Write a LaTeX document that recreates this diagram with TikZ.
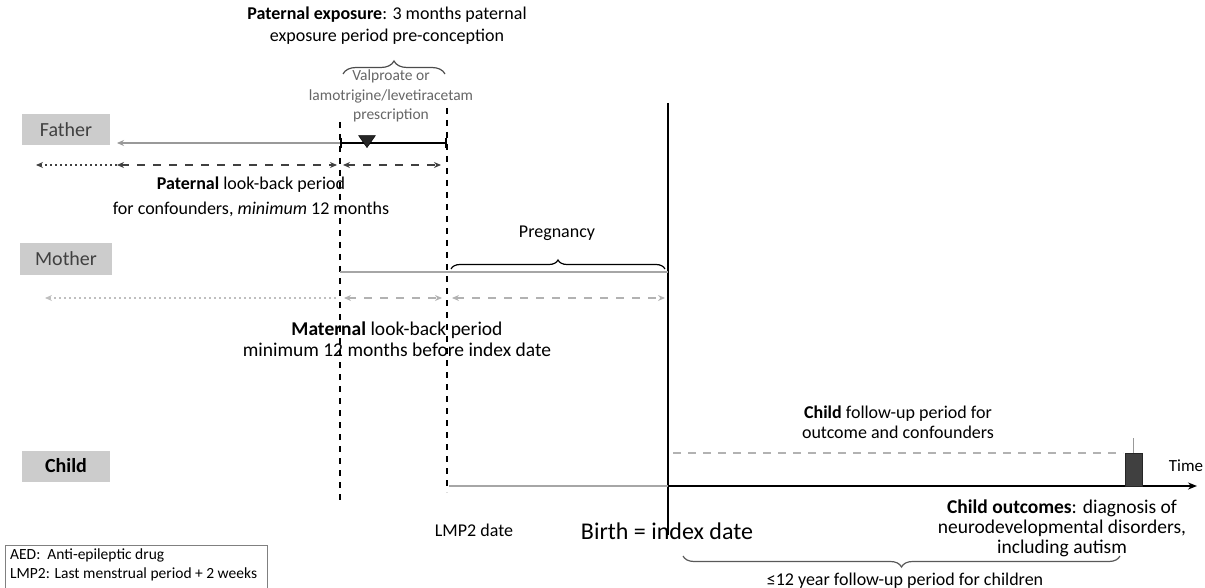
\documentclass[tikz,border=0pt]{standalone}
\usepackage{fontspec}
\setmainfont{Carlito}
\usetikzlibrary{arrows.meta,decorations.pathreplacing,calc,shapes.geometric}
\begin{document}
\begin{tikzpicture}[x=1pt,y=-1pt,
  rolebox/.style={fill=gray!40, inner sep=0pt, minimum height=31pt, minimum width=88pt, font=\fontsize{20}{22}\selectfont, text=black!75},
  txt/.style={font=\fontsize{18}{22}\selectfont, align=center, inner sep=0pt},
  graytxt/.style={font=\fontsize{15.5}{19.5}\selectfont, align=center, inner sep=0pt, text=black!60},
  vdash/.style={line width=1.6pt, dash pattern=on 6pt off 6pt},
  fdash/.style={line width=1.3pt, black!75, dash pattern=on 8pt off 8pt, {Stealth[length=7pt,width=6pt]}-{Stealth[length=7pt,width=6pt]}},
  fdot/.style={line width=1.3pt, black!75, dash pattern=on 2pt off 3pt, {Stealth[length=7pt,width=6pt]}-},
  mdash/.style={line width=1.3pt, black!30, dash pattern=on 8pt off 8pt, {Stealth[length=7pt,width=6pt]}-{Stealth[length=7pt,width=6pt]}},
  mdot/.style={line width=1.3pt, black!25, dash pattern=on 2pt off 3pt, {Stealth[length=7pt,width=6pt]}-},
  bracestyle/.style={decorate, decoration={brace, amplitude=10pt}, line width=1.2pt},
]
\useasboundingbox (0,0) rectangle (1205,588);

% role labels
\node[rolebox] (father) at (66,130) {Father};
\node[rolebox, minimum width=92pt] (mother) at (66,259) {Mother};
\node[rolebox, text=black, font=\bfseries\fontsize{20}{22}\selectfont] (child) at (66,466) {Child};

% key coordinates
\coordinate (p1top) at (340,122);
\coordinate (p1bot) at (340,500);
\coordinate (p2top) at (447,108);
\coordinate (p2bot) at (447,492);
\coordinate (btop) at (668,103);
\coordinate (bbot) at (668,535);

% vertical lines
\draw[vdash] (p1top) -- (p1bot);
\draw[vdash] (p2top) -- (p2bot);
\draw[line width=2.6pt] (btop) -- (bbot);

% top text
\node[txt] (patexp) at (387,26) {\textbf{Paternal exposure}: 3 months paternal\\exposure period pre-conception};
\coordinate (brL) at (343,74);
\coordinate (brR) at (445,74);
\draw[bracestyle, black!70, decoration={brace, amplitude=13pt}] (brL) -- (brR);
\node[graytxt] (presc) at (391,96) {Valproate or\\lamotrigine/levetiracetam\\prescription};

% father line
\coordinate (fA) at (340,143);
\coordinate (fB) at (447,143);
\coordinate (fL) at (117,143);
\draw[line width=1.4pt, black!40, -{Stealth[length=7pt,width=6pt]}] (fA) -- (fL);
\draw[line width=1.8pt, |-|] (fA) -- (fB);
\node[fill=black!85, draw=black, isosceles triangle, isosceles triangle apex angle=70, shape border rotate=-90, inner sep=0pt, minimum height=12pt] (tri) at (367,140) {};

% paternal look-back arrows
\coordinate (pd0) at (36,165);
\coordinate (pd1) at (117,165);
\coordinate (pd2) at (337,165);
\coordinate (pd3) at (343,165);
\coordinate (pd4) at (441,165);
\draw[fdot] (pd0) -- (pd1);
\draw[fdash] (pd1) -- (pd2);
\draw[fdash] (pd3) -- (pd4);
\node[txt, font=\fontsize{18}{25}\selectfont] (patlb) at (251,197) {\textbf{Paternal} look-back period\\for confounders, \textit{minimum} 12 months};

% mother
\node[txt] (preg) at (557,233) {Pregnancy};
\coordinate (pgL) at (451,269);
\coordinate (pgR) at (665,269);
\draw[bracestyle, decoration={brace, amplitude=9pt}] (pgL) -- (pgR);
\coordinate (mA) at (340,272);
\coordinate (mB) at (668,272);
\draw[line width=1.8pt, black!35] (mA) -- (mB);

\coordinate (md0) at (45,298);
\coordinate (md1) at (336,298);
\coordinate (md2) at (344,298);
\coordinate (md3) at (442,298);
\coordinate (md4) at (452,298);
\coordinate (md5) at (665,298);
\draw[mdot] (md0) -- (md1);
\draw[mdash] (md2) -- (md3);
\draw[mdash] (md4) -- (md5);
\node[txt, font=\fontsize{19.5}{21}\selectfont] (matlb) at (397,339) {\textbf{Maternal} look-back period\\minimum 12 months before index date};

% child
\node[txt, font=\fontsize{18}{20}\selectfont] (cfu) at (898,422) {\textbf{Child} follow-up period for\\outcome and confounders};
\coordinate (cdA) at (673,453);
\coordinate (cdB) at (1123,453);
\draw[line width=2pt, black!30, dash pattern=on 8pt off 7pt] (cdA) -- (cdB);
\coordinate (cA) at (449,486);
\coordinate (cB) at (668,486);
\coordinate (cE) at (1197,486);
\draw[line width=1.6pt, black!35] (cA) -- (cB);
\draw[line width=2pt, -{Stealth[length=9pt,width=7pt]}] (cB) -- (cE);
\node[fill=black!75, draw=black!85, inner sep=0pt, minimum width=17pt, minimum height=33pt] (outbox) at (1133.5,469.5) {};
\coordinate (tk) at (1133.5,438);
\draw[line width=1.2pt, black!40] (tk) -- (outbox.north);
\node[txt, font=\fontsize{17}{20}\selectfont] (time) at (1186,466) {Time};
\node[txt, font=\fontsize{19.5}{20}\selectfont] (cout) at (1062,528) {\textbf{Child outcomes}: diagnosis of\\neurodevelopmental disorders,\\including autism};

\node[txt] (lmp) at (474,530) {LMP2 date};
\node[txt, font=\fontsize{24}{26}\selectfont] (birth) at (667,531) {Birth = index date};

\coordinate (bbR) at (1120,556);
\coordinate (bbL) at (683,556);
\draw[bracestyle, black!65, decoration={brace, amplitude=11pt}] (bbR) -- (bbL);
\node[txt] (fu12) at (905,581) {≤12 year follow-up period for children};

% legend
\node[draw=black!50, line width=0.8pt, anchor=north west, minimum width=262pt, minimum height=50pt, inner sep=0pt] (legend) at (5,545) {};
\node[txt, font=\fontsize{15.5}{19}\selectfont, align=left, anchor=north west] (legtxt) at (10,549) {AED:\ \ Anti-epileptic drug\\LMP2: Last menstrual period + 2 weeks};
\end{tikzpicture}
\end{document}
